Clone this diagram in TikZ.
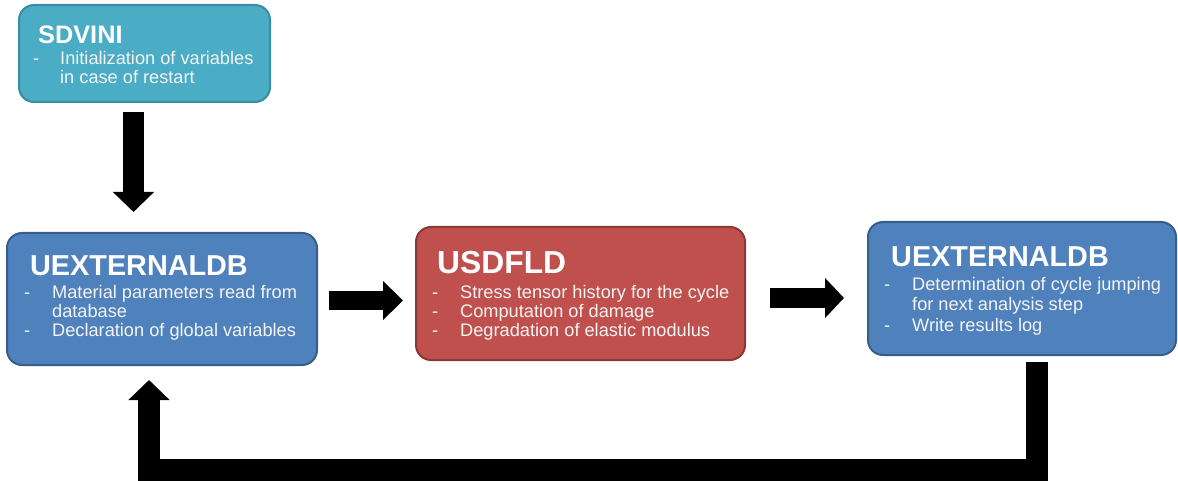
\documentclass[tikz,border=0pt]{standalone}
\usepackage{fontspec}
\setmainfont{Liberation Sans}
\usetikzlibrary{arrows.meta,calc}
\definecolor{tealfill}{HTML}{4BACC6}
\definecolor{tealline}{HTML}{3A8CA3}
\definecolor{bluefill}{HTML}{4F81BD}
\definecolor{blueline}{HTML}{385D8A}
\definecolor{redfill}{HTML}{C0504D}
\definecolor{redline}{HTML}{8C3836}
\definecolor{bodywhite}{HTML}{F4F4F4}
\tikzset{
  box/.style={rectangle, rounded corners=15pt, line width=2pt, inner sep=0pt, outer sep=0pt},
  title/.style={anchor=base west, inner sep=0pt, text=white, font=\bfseries\fontsize{28.8}{30}\selectfont},
  body/.style={anchor=base west, inner sep=0pt, text=bodywhite, font=\fontsize{18.2}{20}\selectfont},
  blockarrow/.style={line width=20pt, black, -{Triangle[width=40pt,length=20pt]}},
  feedback/.style={line width=22pt, black, miter limit=10, line join=miter, -{Triangle[width=40pt,length=20pt]}}
}
\begin{document}
\begin{tikzpicture}[x=1pt,y=-1pt]
\useasboundingbox (0,0) rectangle (1178,481);
% boxes
\node[box, draw=tealline, fill=tealfill, minimum width=251pt, minimum height=97pt] (sdvini) at (144.5,53.5) {};
\node[box, draw=blueline, fill=bluefill, minimum width=310pt, minimum height=132pt] (uext1) at (162,299) {};
\node[box, draw=redline, fill=redfill, minimum width=329pt, minimum height=133pt] (usdfld) at (580.5,293.5) {};
\node[box, draw=blueline, fill=bluefill, minimum width=308pt, minimum height=133pt] (uext2) at (1022,288.5) {};
% SDVINI text
\node[title, font=\bfseries\fontsize{25.3}{27}\selectfont] (t1) at (38,44) {SDVINI};
\node[body] (d1a) at (33,65) {-};
\node[body] (l1a) at (60,65) {Initialization of variables};
\node[body] (l1b) at (60,84) {in case of restart};
% UEXTERNALDB left
\node[title] (t2) at (30,275) {UEXTERNALDB};
\node[body] (d2a) at (24,298) {-};
\node[body] (l2a) at (52,298) {Material parameters read from};
\node[body] (l2b) at (52,317) {database};
\node[body] (d2c) at (24,336) {-};
\node[body] (l2c) at (52,336) {Declaration of global variables};
% USDFLD
\node[title, font=\bfseries\fontsize{31.8}{33}\selectfont] (t3) at (437,273) {USDFLD};
\node[body] (d3a) at (432,298) {-};
\node[body] (l3a) at (460,298) {Stress tensor history for the cycle};
\node[body] (d3b) at (432,317) {-};
\node[body] (l3b) at (460,317) {Computation of damage};
\node[body] (d3c) at (432,336) {-};
\node[body] (l3c) at (460,336) {Degradation of elastic modulus};
% UEXTERNALDB right
\node[title] (t4) at (891,266) {UEXTERNALDB};
\node[body] (d4a) at (884,290) {-};
\node[body] (l4a) at (912,290) {Determination of cycle jumping};
\node[body] (l4b) at (912,310) {for next analysis step};
\node[body] (d4c) at (884,331) {-};
\node[body] (l4c) at (912,331) {Write results log};
% arrows
\draw[blockarrow, line width=21pt] ([xshift=-11pt,yshift=-10pt]sdvini.south) -- ([xshift=-11pt,yshift=21pt]sdvini.south |- uext1.north);
\draw[blockarrow, line width=19pt, -{Triangle[width=38pt,length=20pt]}] ([xshift=12pt,yshift=-1.5pt]uext1.east) -- ([xshift=-13pt,yshift=-1.5pt]uext1.east -| usdfld.west);
\draw[blockarrow, -{Triangle[width=39pt,length=19pt]}] ([xshift=25pt,yshift=-4.5pt]usdfld.east) -- ([xshift=-24pt,yshift=-4.5pt]usdfld.east -| uext2.west);
\coordinate (fbr) at (1037,470);
\coordinate (fbl) at (149,470);
\draw[feedback] ([xshift=15pt,yshift=-7pt]uext2.south) -- (fbr) -- (fbl) -- ([xshift=-13pt,yshift=-15pt]uext1.south);
\end{tikzpicture}
\end{document}
